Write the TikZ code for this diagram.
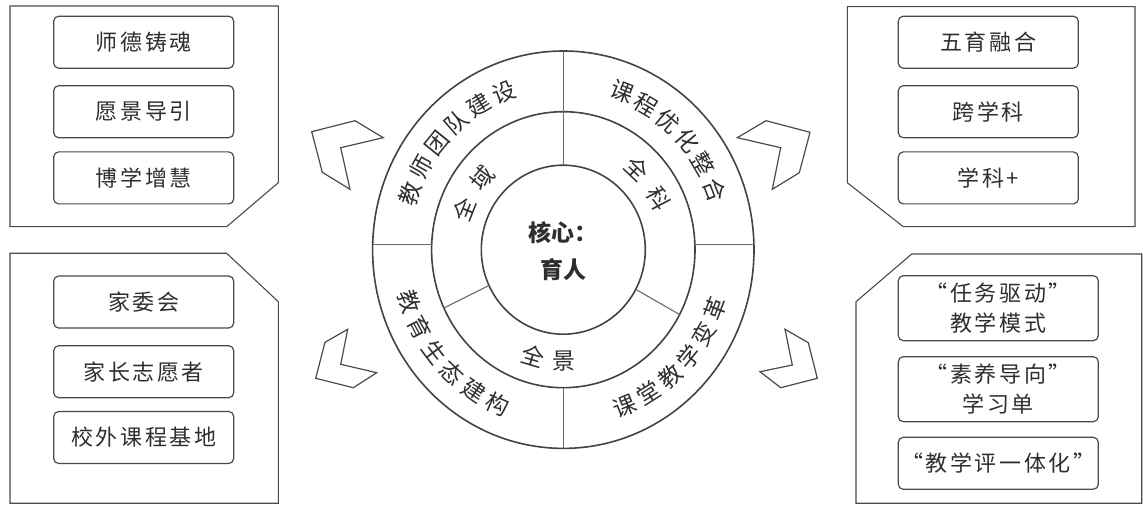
\documentclass[tikz,border=0pt]{standalone}
\usepackage{fontspec}
\newfontfamily\cjk{Noto Sans CJK SC}
\newfontfamily\cjkls[LetterSpace=12]{Noto Sans CJK SC}
\definecolor{ink}{HTML}{2E2E2E}
\definecolor{edge}{HTML}{4A4A4A}
\definecolor{divider}{HTML}{6A6A6A}
\begin{document}
\begin{tikzpicture}[x=1pt,y=1pt,
  panel/.style={draw=edge, line width=1.1pt, line join=miter},
  chev/.style={draw=edge, line width=1.2pt, line join=miter},
  ring/.style={draw=edge!90!black, line width=1.6pt},
  divline/.style={draw=divider, line width=1.1pt},
  itembox/.style={draw=edge, line width=1.2pt, rounded corners=5pt,
    minimum width=180pt, minimum height=52pt, inner sep=0pt, text=ink,
    font=\cjkls\fontsize{22}{30}\selectfont, align=center},
  ringtxt/.style={text=ink, inner sep=0pt, font=\cjk\fontsize{23}{23}\selectfont},
  coretxt/.style={text=ink, inner sep=0pt, align=center, font=\cjk\bfseries\fontsize{23}{37}\selectfont}]
\useasboundingbox (0,0) rectangle (1143,504);

% ---------- corner panels ----------
\draw[panel] (10,498) -- (278.3,498) -- (278.3,321.3) -- (226.7,277.3) -- (10,277.3) -- cycle;
\draw[panel] (847.3,497.3) -- (1135,497.3) -- (1135,277.3) -- (903.3,277.3) -- (847.3,321.3) -- cycle;
\draw[panel] (10,250.7) -- (226.7,250.7) -- (278.3,202.3) -- (278.3,0.8) -- (10,0.8) -- cycle;
\draw[panel] (911.7,250) -- (1141.7,250) -- (1141.7,0.8) -- (856,0.8) -- (856,202.3) -- cycle;

% ---------- boxes ----------
\node[itembox] (ul1) at (143.7,461.8) {师德铸魂};
\node[itembox] (ul2) at (143.7,392.3) {愿景导引};
\node[itembox] (ul3) at (143.7,326.1) {博学增慧};

\node[itembox] (ur1) at (988.3,461.8) {五育融合};
\node[itembox] (ur2) at (988.3,392.3) {跨学科};
\node[itembox] (ur3) at (988.3,326.1) {学科+};

\node[itembox] (ll1) at (143.7,202) {家委会};
\node[itembox] (ll2) at (143.7,132.3) {家长志愿者};
\node[itembox] (ll3) at (143.7,66.5) {校外课程基地};

\node[itembox, minimum width=200pt, minimum height=65pt] (lr1) at (998.3,195.8) {“任务驱动”\\教学模式};
\node[itembox, minimum width=200pt, minimum height=65pt] (lr2) at (998.3,114.8) {“素养导向”\\学习单};
\node[itembox, minimum width=200pt] (lr3) at (998.3,40.7) {“教学评一体化”};

% ---------- chevrons ----------
\draw[chev] (311.7,372.3) -- (355,383.3) -- (383.3,366.3) -- (340.7,356.3) -- (350,314.7) -- (322.3,331.7) -- cycle;
\draw[chev] (347.7,174.7) -- (325,161.7) -- (315.7,125.7) -- (353.3,116.3) -- (376.7,131.3) -- (340.7,139.7) -- cycle;
\draw[chev] (766,383.3) -- (810,371.7) -- (799.3,331.3) -- (772.3,314.7) -- (780.7,356.3) -- (737.3,366.3) -- cycle;
\draw[chev] (785,174.7) -- (808.3,161.3) -- (817.3,125.7) -- (780.7,116.3) -- (760,132.3) -- (792.3,139) -- cycle;

% ---------- central rings ----------
\begin{scope}[shift={(563.3,254.3)}]
  \draw[ring] (0,0) ellipse [x radius=190.7pt, y radius=198.7pt];
  \draw[ring] (0,0) ellipse [x radius=131.7pt, y radius=138pt];
  \draw[ring] (0,0) ellipse [x radius=82pt, y radius=84.5pt];

  % dividers
  \draw[divline] (0,84.5) -- (0,198.7);
  \draw[divline] (0,-138) -- (0,-198.7);
  \draw[divline] (-190.7,5.4) -- (-131.7,5.4);
  \draw[divline] (131.7,5.4) -- (190.7,5.4);
  \draw[divline] (205:82pt and 84.5pt) -- (205:131.7pt and 138pt);
  \draw[divline] (-28:82pt and 84.5pt) -- (-28:131.7pt and 138pt);

  % outer ring texts
  \foreach \ch [count=\i] in {教,师,团,队,建,设}{
    \pgfmathsetmacro{\a}{160.7-(\i-1)*9.86}
    \node[ringtxt, rotate=\a-90] (oa\i) at (\a:162pt and 169pt) {\ch};
  }
  \foreach \ch [count=\i] in {课,程,优,化,整,合}{
    \pgfmathsetmacro{\a}{68.8-(\i-1)*9.6}
    \node[ringtxt, rotate=\a-90] (ob\i) at (\a:162pt and 169pt) {\ch};
  }
  \foreach \ch [count=\i] in {教,育,生,态,建,构}{
    \pgfmathsetmacro{\a}{198-(\i-1)*(-9.6)}
    \node[ringtxt, rotate=\a+90] (oc\i) at (\a:162pt and 169pt) {\ch};
  }
  \foreach \ch [count=\i] in {课,堂,教,学,变,革}{
    \pgfmathsetmacro{\a}{292.5+(\i-1)*9.4}
    \node[ringtxt, rotate=\a+90] (od\i) at (\a:162pt and 169pt) {\ch};
  }

  % middle ring texts
  \foreach \ch [count=\i] in {全,域}{
    \pgfmathsetmacro{\a}{158.5-(\i-1)*19}
    \node[ringtxt, rotate=\a-90] (ma\i) at (\a:107pt and 111pt) {\ch};
  }
  \foreach \ch [count=\i] in {全,科}{
    \pgfmathsetmacro{\a}{46.5-(\i-1)*19}
    \node[ringtxt, rotate=\a-90] (mb\i) at (\a:107pt and 111pt) {\ch};
  }
  \foreach \ch [count=\i] in {全,景}{
    \pgfmathsetmacro{\a}{253.5+(\i-1)*17}
    \node[ringtxt, rotate=\a+90] (mc\i) at (\a:107pt and 111pt) {\ch};
  }

  % core
  \node[coretxt] (core) at (0,-1) {核心：\\育人};
\end{scope}
\end{tikzpicture}
\end{document}
